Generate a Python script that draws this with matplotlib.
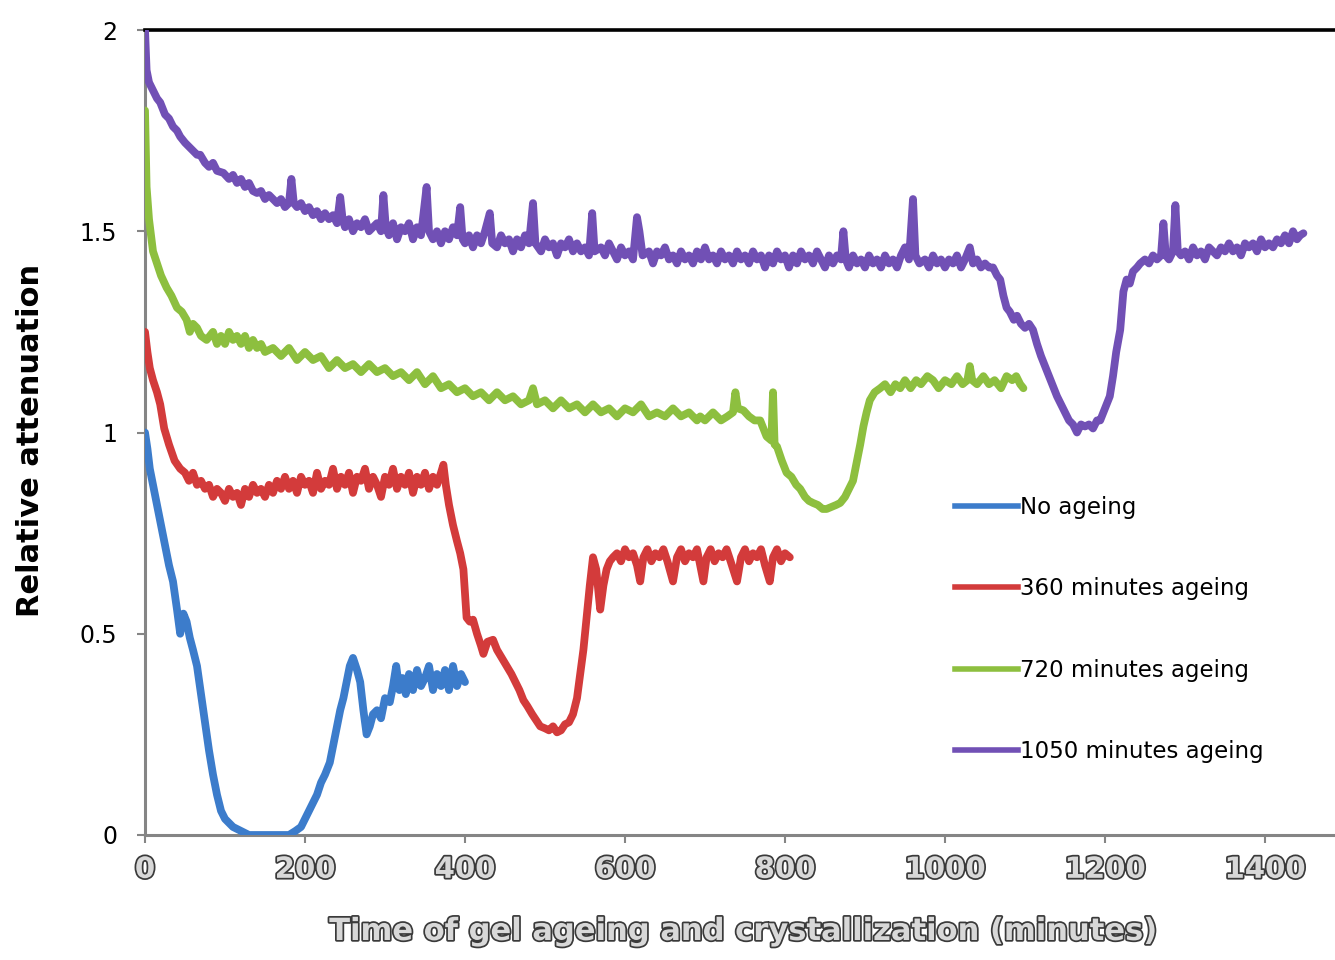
import numpy as np
import matplotlib
matplotlib.use("Agg")
from matplotlib import pyplot as plt
from matplotlib import patheffects as pe
from matplotlib.lines import Line2D

# (minutes, relative attenuation)
no_ageing = [
    (0, 1.00), (3, 0.96), (6, 0.91), (10, 0.87), (15, 0.82), (20, 0.77), (25, 0.72),
    (30, 0.67), (35, 0.63), (40, 0.56), (44, 0.50), (48, 0.55), (52, 0.53), (56, 0.49),
    (60, 0.46), (65, 0.42), (70, 0.35), (75, 0.28), (80, 0.21), (85, 0.15), (90, 0.10),
    (95, 0.06), (100, 0.04), (110, 0.02), (120, 0.01), (130, 0.00), (140, 0.00),
    (150, 0.00), (160, 0.00), (170, 0.00), (180, 0.00), (188, 0.01), (195, 0.02),
    (200, 0.04), (205, 0.06), (210, 0.08), (215, 0.10), (220, 0.13), (225, 0.15),
    (231, 0.18), (236, 0.23), (240, 0.27), (244, 0.31), (248, 0.34), (252, 0.38),
    (256, 0.42), (260, 0.44), (265, 0.41), (269, 0.38), (273, 0.31), (277, 0.25),
    (281, 0.27), (285, 0.30), (290, 0.31), (295, 0.29), (300, 0.34), (306, 0.33),
    (310, 0.37), (314, 0.42), (318, 0.36), (322, 0.39), (326, 0.35), (330, 0.40),
    (335, 0.36), (340, 0.41), (345, 0.37), (350, 0.39), (355, 0.42), (360, 0.36),
    (365, 0.40), (370, 0.37), (375, 0.41), (380, 0.36), (385, 0.42), (390, 0.37),
    (395, 0.40), (400, 0.38),
]

ageing_360 = [
    (0, 1.25), (3, 1.20), (6, 1.16), (10, 1.13), (15, 1.10), (19, 1.07), (24, 1.01),
    (30, 0.97), (37, 0.93), (44, 0.91), (50, 0.90), (55, 0.88), (60, 0.90), (65, 0.87),
    (70, 0.88), (75, 0.86), (80, 0.87), (85, 0.84), (90, 0.86), (95, 0.85), (100, 0.83),
    (105, 0.86), (110, 0.84), (115, 0.85), (120, 0.82), (125, 0.86), (130, 0.84),
    (135, 0.87), (140, 0.85), (145, 0.86), (150, 0.84), (155, 0.87), (160, 0.85),
    (165, 0.88), (170, 0.86), (175, 0.89), (180, 0.86), (185, 0.88), (190, 0.85),
    (195, 0.89), (200, 0.87), (205, 0.88), (210, 0.85), (215, 0.90), (220, 0.86),
    (225, 0.88), (230, 0.87), (235, 0.91), (240, 0.86), (245, 0.89), (250, 0.87),
    (255, 0.90), (260, 0.85), (265, 0.89), (270, 0.88), (275, 0.91), (280, 0.86),
    (285, 0.89), (290, 0.87), (295, 0.84), (300, 0.89), (305, 0.87), (310, 0.91),
    (315, 0.86), (320, 0.89), (325, 0.87), (330, 0.90), (335, 0.85), (340, 0.89),
    (345, 0.87), (350, 0.90), (355, 0.86), (360, 0.89), (365, 0.87), (370, 0.90),
    (373, 0.92), (376, 0.87), (380, 0.82), (385, 0.77), (390, 0.73), (394, 0.70),
    (398, 0.66), (402, 0.54), (406, 0.53), (410, 0.535), (415, 0.50), (420, 0.47),
    (423, 0.45), (428, 0.48), (435, 0.485), (440, 0.46), (446, 0.44), (452, 0.42),
    (458, 0.40), (463, 0.38), (468, 0.36), (473, 0.335), (478, 0.32), (484, 0.30),
    (489, 0.285), (494, 0.27), (500, 0.265), (505, 0.26), (510, 0.27), (515, 0.255),
    (520, 0.26), (525, 0.275), (530, 0.28), (535, 0.30), (540, 0.34), (544, 0.40),
    (548, 0.46), (552, 0.54), (556, 0.62), (560, 0.69), (564, 0.66), (569, 0.56),
    (573, 0.62), (577, 0.66), (581, 0.68), (585, 0.69), (590, 0.70), (595, 0.68),
    (600, 0.71), (605, 0.69), (610, 0.70), (615, 0.67), (619, 0.63), (623, 0.69),
    (628, 0.71), (633, 0.68), (638, 0.70), (643, 0.69), (648, 0.71), (653, 0.68),
    (660, 0.63), (665, 0.69), (670, 0.71), (675, 0.68), (680, 0.70), (685, 0.69),
    (690, 0.71), (694, 0.67), (698, 0.63), (702, 0.69), (707, 0.71), (712, 0.68),
    (717, 0.70), (722, 0.69), (727, 0.71), (732, 0.68), (740, 0.63), (745, 0.69),
    (750, 0.71), (755, 0.68), (760, 0.70), (765, 0.69), (770, 0.71), (775, 0.67),
    (781, 0.63), (785, 0.69), (790, 0.71), (795, 0.68), (800, 0.70), (806, 0.69),
]

ageing_720 = [
    (0, 1.80), (1, 1.70), (2, 1.61), (5, 1.53), (10, 1.45), (15, 1.42), (20, 1.39),
    (27, 1.36), (33, 1.34), (40, 1.31), (46, 1.30), (52, 1.28), (56, 1.25), (60, 1.27),
    (65, 1.26), (70, 1.24), (77, 1.23), (85, 1.25), (90, 1.22), (95, 1.24), (100, 1.22),
    (105, 1.25), (110, 1.23), (115, 1.24), (120, 1.22), (125, 1.24), (130, 1.21),
    (135, 1.23), (140, 1.21), (145, 1.22), (150, 1.20), (160, 1.21), (170, 1.19),
    (180, 1.21), (190, 1.18), (200, 1.20), (210, 1.18), (220, 1.19), (230, 1.16),
    (240, 1.18), (250, 1.16), (260, 1.17), (270, 1.15), (280, 1.17), (290, 1.15),
    (300, 1.16), (310, 1.14), (320, 1.15), (330, 1.13), (340, 1.15), (350, 1.12),
    (360, 1.14), (370, 1.11), (380, 1.12), (390, 1.10), (400, 1.11), (410, 1.09),
    (420, 1.10), (430, 1.08), (440, 1.10), (450, 1.08), (460, 1.09), (470, 1.07),
    (480, 1.08), (485, 1.11), (490, 1.07), (500, 1.08), (510, 1.06), (520, 1.08),
    (530, 1.06), (540, 1.07), (550, 1.05), (560, 1.07), (570, 1.05), (580, 1.06),
    (590, 1.04), (600, 1.06), (610, 1.05), (620, 1.07), (630, 1.04), (640, 1.05),
    (650, 1.04), (660, 1.06), (670, 1.04), (680, 1.05), (690, 1.03), (694, 1.04),
    (700, 1.03), (710, 1.05), (720, 1.03), (728, 1.04), (735, 1.05), (738, 1.10),
    (741, 1.06), (748, 1.055), (755, 1.04), (762, 1.03), (769, 1.03), (777, 0.99),
    (783, 0.98), (785, 1.10), (787, 0.97), (790, 0.965), (796, 0.93), (802, 0.90),
    (808, 0.89), (814, 0.87), (819, 0.86), (825, 0.84), (830, 0.83), (835, 0.825),
    (841, 0.82), (847, 0.81), (852, 0.81), (858, 0.815), (864, 0.82), (869, 0.825),
    (875, 0.84), (880, 0.86), (885, 0.88), (890, 0.93), (894, 0.97), (898, 1.015),
    (902, 1.05), (906, 1.08), (912, 1.10), (919, 1.11), (925, 1.12), (932, 1.10),
    (938, 1.12), (944, 1.11), (950, 1.13), (957, 1.11), (964, 1.13), (970, 1.12),
    (978, 1.14), (985, 1.13), (992, 1.11), (1000, 1.13), (1008, 1.12), (1015, 1.14),
    (1022, 1.12), (1028, 1.13), (1031, 1.165), (1034, 1.13), (1040, 1.12), (1048, 1.14),
    (1055, 1.12), (1062, 1.13), (1070, 1.11), (1077, 1.14), (1084, 1.13), (1089, 1.14),
    (1094, 1.12), (1098, 1.11),
]

ageing_1050 = [
    (0, 2.00), (2, 1.90), (5, 1.87), (10, 1.85), (15, 1.83), (19, 1.82), (25, 1.79),
    (30, 1.78), (35, 1.76), (40, 1.75), (44, 1.735), (50, 1.72), (55, 1.71), (60, 1.70),
    (65, 1.69), (69, 1.69), (75, 1.67), (80, 1.66), (85, 1.67), (90, 1.65), (98, 1.645),
    (105, 1.63), (110, 1.64), (115, 1.62), (120, 1.63), (125, 1.61), (130, 1.62),
    (135, 1.60), (140, 1.595), (145, 1.60), (150, 1.58), (155, 1.59), (160, 1.58),
    (165, 1.57), (170, 1.58), (175, 1.56), (180, 1.57), (183, 1.63), (186, 1.57),
    (190, 1.56), (195, 1.57), (200, 1.55), (205, 1.56), (210, 1.54), (215, 1.55),
    (220, 1.53), (225, 1.545), (230, 1.53), (235, 1.54), (240, 1.52), (244, 1.585),
    (247, 1.53), (250, 1.51), (255, 1.53), (260, 1.50), (265, 1.52), (270, 1.51),
    (275, 1.53), (280, 1.50), (285, 1.51), (290, 1.52), (295, 1.50), (298, 1.59),
    (301, 1.51), (305, 1.49), (310, 1.52), (315, 1.48), (320, 1.51), (325, 1.50),
    (330, 1.52), (335, 1.48), (340, 1.51), (345, 1.49), (352, 1.61), (355, 1.50),
    (360, 1.48), (365, 1.50), (370, 1.47), (375, 1.50), (380, 1.48), (385, 1.51),
    (390, 1.49), (394, 1.56), (397, 1.48), (400, 1.47), (405, 1.49), (410, 1.46),
    (415, 1.49), (420, 1.47), (425, 1.50), (431, 1.545), (434, 1.47), (440, 1.46),
    (445, 1.49), (450, 1.47), (455, 1.48), (460, 1.45), (465, 1.48), (470, 1.46),
    (475, 1.49), (480, 1.47), (485, 1.57), (488, 1.47), (495, 1.45), (500, 1.48),
    (505, 1.46), (510, 1.47), (515, 1.44), (520, 1.47), (525, 1.46), (530, 1.48),
    (535, 1.45), (540, 1.47), (545, 1.45), (550, 1.46), (555, 1.44), (559, 1.545),
    (562, 1.45), (570, 1.46), (575, 1.44), (580, 1.47), (585, 1.45), (590, 1.43),
    (595, 1.46), (600, 1.44), (605, 1.45), (610, 1.43), (615, 1.535), (618, 1.50),
    (622, 1.44), (630, 1.45), (635, 1.42), (640, 1.45), (645, 1.44), (650, 1.46),
    (655, 1.43), (660, 1.44), (665, 1.42), (670, 1.45), (675, 1.43), (680, 1.44),
    (685, 1.42), (690, 1.45), (695, 1.43), (700, 1.46), (705, 1.43), (710, 1.44),
    (715, 1.42), (720, 1.45), (725, 1.43), (730, 1.44), (735, 1.42), (740, 1.45),
    (745, 1.43), (750, 1.44), (755, 1.42), (760, 1.45), (765, 1.43), (770, 1.44),
    (775, 1.41), (780, 1.44), (785, 1.42), (790, 1.45), (795, 1.43), (800, 1.44),
    (805, 1.41), (810, 1.44), (815, 1.42), (820, 1.45), (825, 1.43), (830, 1.44),
    (835, 1.42), (840, 1.45), (845, 1.43), (850, 1.41), (855, 1.44), (860, 1.42),
    (865, 1.44), (870, 1.43), (873, 1.50), (876, 1.43), (880, 1.41), (885, 1.44),
    (890, 1.42), (895, 1.43), (900, 1.41), (905, 1.44), (910, 1.42), (915, 1.43),
    (920, 1.41), (925, 1.44), (930, 1.42), (935, 1.43), (940, 1.41), (945, 1.44),
    (950, 1.46), (955, 1.43), (960, 1.58), (963, 1.44), (968, 1.42), (975, 1.43),
    (980, 1.41), (985, 1.44), (990, 1.42), (995, 1.43), (1000, 1.41), (1005, 1.43),
    (1010, 1.42), (1015, 1.44), (1020, 1.41), (1025, 1.43), (1031, 1.46), (1035, 1.42),
    (1040, 1.43), (1045, 1.41), (1050, 1.42), (1055, 1.41), (1060, 1.41), (1065, 1.39),
    (1069, 1.38), (1073, 1.34), (1077, 1.31), (1081, 1.30), (1086, 1.28), (1090, 1.29),
    (1095, 1.27), (1100, 1.26), (1105, 1.27), (1110, 1.255), (1115, 1.22), (1120, 1.19),
    (1124, 1.17), (1128, 1.15), (1132, 1.13), (1136, 1.11), (1140, 1.09), (1145, 1.07),
    (1150, 1.05), (1155, 1.03), (1160, 1.02), (1165, 1.00), (1170, 1.02), (1175, 1.015),
    (1180, 1.02), (1185, 1.01), (1190, 1.03), (1194, 1.03), (1198, 1.05), (1202, 1.07),
    (1206, 1.09), (1210, 1.14), (1214, 1.20), (1219, 1.255), (1223, 1.35), (1227, 1.38),
    (1231, 1.37), (1235, 1.40), (1240, 1.41), (1244, 1.42), (1250, 1.43), (1255, 1.42),
    (1260, 1.44), (1265, 1.43), (1270, 1.44), (1273, 1.52), (1276, 1.44), (1280, 1.43),
    (1285, 1.45), (1288, 1.565), (1291, 1.45), (1295, 1.44), (1300, 1.45), (1305, 1.43),
    (1310, 1.46), (1315, 1.44), (1320, 1.45), (1325, 1.43), (1330, 1.46), (1335, 1.45),
    (1340, 1.44), (1345, 1.46), (1350, 1.45), (1355, 1.47), (1360, 1.45), (1365, 1.46),
    (1370, 1.44), (1375, 1.47), (1380, 1.46), (1385, 1.47), (1390, 1.45), (1395, 1.48),
    (1400, 1.46), (1405, 1.47), (1410, 1.46), (1415, 1.48), (1420, 1.47), (1425, 1.49),
    (1430, 1.47), (1435, 1.50), (1440, 1.48), (1444, 1.49), (1448, 1.495),
]

labels = ["No ageing", "360 minutes ageing", "720 minutes ageing", "1050 minutes ageing"]
colors = ["#3c7ccb", "#d33b3b", "#8dbf3f", "#7150b5"]
xticks = [0, 200, 400, 600, 800, 1000, 1200, 1400]
yticks = [0, 0.5, 1, 1.5, 2]
ytick_labels = ["0", "0.5", "1", "1.5", "2"]

W, H = 1335, 960
fig = plt.figure(figsize=(W / 100, H / 100), dpi=100)
ax = fig.add_axes([145 / W, (H - 835) / H, 1190 / W, 805 / H])

for series, c in zip([no_ageing, ageing_360, ageing_720, ageing_1050], colors):
    t, v = zip(*series)
    ax.plot(t, v, color=c, lw=5.6, solid_joinstyle="round", solid_capstyle="round", zorder=3)

ax.set_xlim(0, 1487.5)
ax.set_ylim(0, 2)

ax.spines["right"].set_visible(False)
ax.spines["top"].set_color("black")
ax.spines["top"].set_linewidth(2.6)
for s in ["left", "bottom"]:
    ax.spines[s].set_color("#858585")
    ax.spines[s].set_linewidth(2.2)

ax.set_yticks(yticks)
ax.set_yticklabels(ytick_labels, fontsize=17)
ax.tick_params(axis="y", length=6, width=1.5, color="#858585", pad=14)

emboss = [pe.Stroke(linewidth=2.5, foreground="#3a3a3a"), pe.Normal()]
ax.set_xticks(xticks)
ax.set_xticklabels([str(x) for x in xticks], fontsize=21, fontweight="bold",
                   color="#d8d8d8", path_effects=emboss)
ax.tick_params(axis="x", length=6, width=1.5, color="#858585", pad=9)

ax.set_xlabel("Time of gel ageing and crystallization (minutes)", fontsize=22,
              fontweight="bold", color="#d8d8d8", path_effects=emboss)
ax.xaxis.set_label_coords((742 - 145) / 1190, -(917 - 835) / 805)
ax.set_ylabel("Relative attenuation", fontsize=22, fontweight="bold")
ax.yaxis.set_label_coords(-(145 - 45) / 1190, (835 - 440) / 805)

handles = [Line2D([], [], color=c, lw=4) for c in colors]
fig.legend(handles, labels, loc="upper left",
           bbox_to_anchor=(955 / W, 1 - 496 / H), frameon=False,
           fontsize=16.5, handlelength=2.75, handletextpad=0.1,
           labelspacing=2.55, borderpad=0, borderaxespad=0)

fig.savefig("out.png", dpi=100)
